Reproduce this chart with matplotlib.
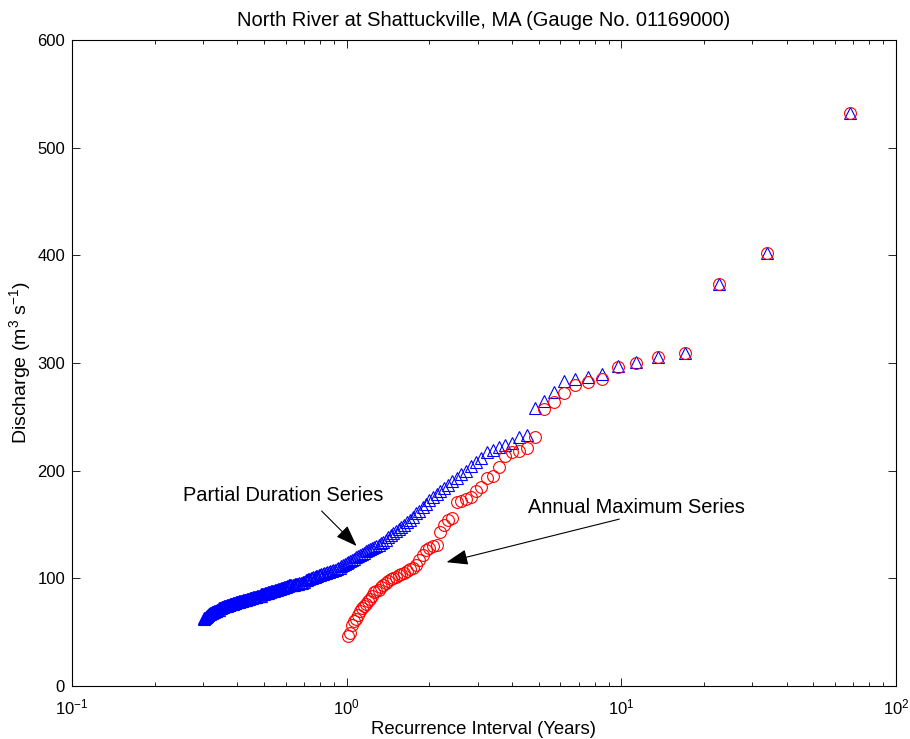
import matplotlib.pyplot as plt
import numpy as np

plt.rcParams['font.family'] = ['Liberation Sans', 'DejaVu Sans']
plt.rcParams['mathtext.default'] = 'regular'

# number of years of record (Weibull plotting position T = (n+1)/rank)
n_years = 67

# annual maximum series, discharge in m3/s, ranked largest first
annual_q = [532, 402, 373, 309, 306, 300, 296, 285, 282, 280,
            272, 264, 257, 231, 221, 218, 217, 214, 203, 195,
            193, 185, 181, 176, 174, 172, 171, 156, 154, 150,
            143, 131, 130, 128, 126, 122, 117, 112, 110, 108.5,
            107, 105, 104, 103, 101.5, 100, 99, 97.5, 96, 94,
            92, 89.5, 88, 87, 84, 81, 79, 76, 74, 72,
            70, 66, 62, 60, 57, 49, 46]

# partial duration series, discharge in m3/s, ranked largest first
partial_q = [532, 402, 373, 309, 306, 301, 297, 290, 287, 285,
             283, 273, 265, 258, 233, 231, 226, 224, 222, 219,
             217, 212, 208, 204, 200, 197, 193, 190, 187, 184,
             181, 178, 176, 173, 169, 166, 163, 161, 157, 154,
             152, 150, 148, 146, 144, 142, 140, 138, 136, 134,
             133, 131, 130, 129, 128, 127, 126, 125, 124, 123,
             122, 121, 120, 118, 117, 116, 115, 114, 113,
             112, 111, 110, 110, 109, 108, 108, 107, 107, 106,
             106, 105, 105, 104, 104, 103, 103, 102, 102, 101,
             101, 100, 100, 99, 99, 98, 98, 97, 97, 96,
             96, 96, 95, 95, 95, 95, 94, 94, 94, 94,
             94, 93, 93, 92, 92, 92, 91, 91, 91, 90,
             90, 90, 89, 89, 89, 88, 88, 88, 88, 87,
             87, 87, 86, 86, 86, 86, 85, 85, 85, 85,
             84, 84, 84, 84, 84, 83, 83, 83, 83, 83,
             82, 82, 82, 82, 81, 81, 81, 81, 80, 80,
             80, 80, 80, 79, 79, 79, 79, 79, 78, 78,
             78, 78, 78, 77, 77, 77, 77, 76, 76, 76,
             76, 76, 75, 75, 75, 75, 74, 74, 74, 74,
             74, 73, 73, 73, 73, 72, 72, 72, 72, 71,
             71, 71, 71, 70, 70, 70, 70, 69, 69, 69,
             69, 68, 68, 68, 67, 67, 67, 66, 66, 65,
             65, 64, 64, 63, 63, 62]

annual_t = (n_years + 1) / np.arange(1, len(annual_q) + 1)
partial_t = (n_years + 1) / np.arange(1, len(partial_q) + 1)

fig = plt.figure(figsize=(9.1, 7.39), dpi=100)
ax = fig.add_axes([0.0791, 0.0717, 0.9055, 0.8742])

ax.semilogx(partial_t, partial_q, '^', color='b', mfc='none', ms=8.5, mew=0.8)
ax.semilogx(annual_t, annual_q, 'o', color='r', mfc='none', ms=8.5, mew=0.8)

ax.set_xlim(0.1, 100)
ax.set_ylim(0, 600)
ax.set_yticks(range(0, 601, 100))

ax.tick_params(which='both', direction='in', top=True, right=True, labelsize=12)
ax.tick_params(which='major', length=6, width=0.6)
ax.tick_params(which='minor', length=3, width=0.6)
ax.tick_params(axis='x', which='both', pad=8)
ax.tick_params(axis='y', which='both', pad=5)
for s in ax.spines.values():
	s.set_linewidth(0.8)

ax.set_title('North River at Shattuckville, MA (Gauge No. 01169000)', fontsize=14.5, pad=10)
ax.set_xlabel('Recurrence Interval (Years)', fontsize=13.3, labelpad=3)
ax.set_ylabel('Discharge (m$^{3}$ s$^{-1}$)', fontsize=14, labelpad=3)

arrow = dict(arrowstyle='-|>,head_length=1.1,head_width=0.4', color='k', lw=0.8,
             mutation_scale=12, shrinkA=0, shrinkB=0)
ax.annotate('', xy=(1.087, 130), xytext=(0.811, 162.5), arrowprops=arrow)
ax.text(0.585, 176.5, 'Partial Duration Series', fontsize=14.4, ha='center', va='center')
ax.annotate('', xy=(2.31, 115), xytext=(9.83, 155), arrowprops=arrow)
ax.text(11.36, 166, 'Annual Maximum Series', fontsize=14.4, ha='center', va='center')

plt.savefig('out.png', dpi=100)
